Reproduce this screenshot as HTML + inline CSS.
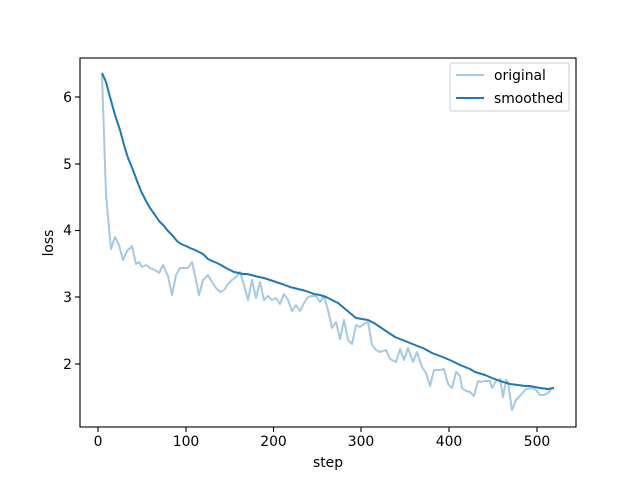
<!DOCTYPE html><html><head><style>body{margin:0;background:#fff}svg{display:block}text{font-family:"DejaVu Sans","Liberation Sans",sans-serif;font-size:13.9px;fill:#000}</style></head><body>
<svg width="640" height="480" xmlns="http://www.w3.org/2000/svg">
<rect width="640" height="480" fill="#fff"/>
<g stroke="#000" stroke-width="1.1">
<line x1="98" y1="427" x2="98" y2="432"/><line x1="186" y1="427" x2="186" y2="432"/><line x1="273.5" y1="427" x2="273.5" y2="432"/><line x1="361" y1="427" x2="361" y2="432"/><line x1="449" y1="427" x2="449" y2="432"/><line x1="537" y1="427" x2="537" y2="432"/>
<line x1="75" y1="97" x2="80" y2="97"/><line x1="75" y1="164" x2="80" y2="164"/><line x1="75" y1="230.5" x2="80" y2="230.5"/><line x1="75" y1="297" x2="80" y2="297"/><line x1="75" y1="364" x2="80" y2="364"/>
</g>
<g text-anchor="middle"><text x="98" y="446">0</text><text x="186" y="446">100</text><text x="273.5" y="446">200</text><text x="361" y="446">300</text><text x="449" y="446">400</text><text x="537" y="446">500</text>
<text x="328" y="467">step</text></g>
<g text-anchor="end"><text x="72" y="102">6</text><text x="72" y="169">5</text><text x="72" y="235">4</text><text x="72" y="302">3</text><text x="72" y="369">2</text></g>
<text transform="translate(53,243) rotate(-90)" text-anchor="middle">loss</text>
<polyline fill="none" stroke="#1f77b4" stroke-opacity="0.4" stroke-width="2" stroke-linejoin="round" points="102,74 106,195 111,249 115,237 119,245 123,260 127,251 132,246 136,264 139,262 142,267 146,265 150,268 155,270 159,273 163,265 168,276 172,295 176,275 180,268 184,268 188,268 192,262 196,280 199,295 203,280 208,275 212,282 216,288 220,292 224,290 228,284 232,280 236,277 240,272 244,285 248,300 252,280 256,298 260,282 264,300 268,296 272,300 276,298 280,304 284,294 288,300 292,311 296,305 300,311 304,303 308,297 312,296 316,296 320,302 324,296 328,310 332,328 336,322 340,339 344,320 348,340 352,344 356,325 360,327 364,324 368,322 372,345 376,350 380,352 386,350 390,359 396,362 400,349 404,360 408,348 413,362 417,352 422,367 426,373 430,386 434,370 440,370 444,369 448,384 452,388 456,372 460,376 462,388 466,391 470,392 474,396 478,381 482,382 484,381 490,381 492,388 496,381 500,379 503,397 506,380 508,382 512,410 516,400 520,396 526,389 532,388 536,390 540,395 544,395 548,393 552,388 554,388"/>
<polyline fill="none" stroke="#1f77b4" stroke-width="2" stroke-linejoin="round" points="102,73 106,82 110,97 115,115 120,130 124,145 128,158 133,170 137,181 141,191 146,201 150,208 155,215 159,221 164,226 168,231 172,235 177,241 181,244 186,246 190,248 195,250 199,252 203,254 208,259 212,261 217,263 221,265 226,268 230,270 234,272 239,273 243,274 247,274 251,275 255,276 259,277 264,278 270,280 276,282 282,284 290,287 298,289 306,291 314,294 320,295 326,297 332,300 338,303 344,308 350,313 356,318 362,319 368,320 374,323 380,327 395,337 405,341 415,345 425,349 432,353 440,356 445,358 452,361 460,365 470,369 475,372 485,375 492,378 500,381 510,384 518,385 525,386 530,386 540,388 548,389 554,388"/>
<rect x="80" y="58" width="496" height="369" fill="none" stroke="#000" stroke-width="1.1"/>
<rect x="450" y="63" width="119" height="48" rx="2" fill="#fff" fill-opacity="0.8" stroke="#ccc" stroke-width="1"/>
<line x1="456" y1="75" x2="484" y2="75" stroke="#1f77b4" stroke-opacity="0.4" stroke-width="2"/>
<line x1="456" y1="98" x2="484" y2="98" stroke="#1f77b4" stroke-width="2"/>
<text x="494" y="80">original</text><text x="494" y="103">smoothed</text>
</svg></body></html>
